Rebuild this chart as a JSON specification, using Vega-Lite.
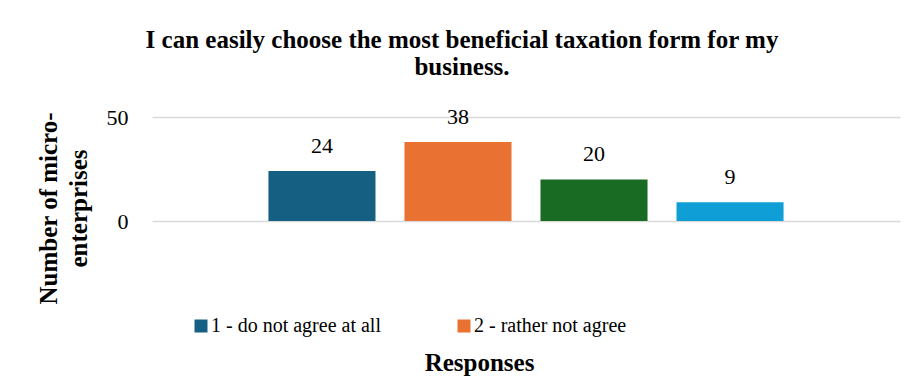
{
  "$schema": "https://vega.github.io/schema/vega-lite/v6.json",
  "width": 748,
  "height": 104,
  "autosize": {"type": "none"},
  "padding": {"left": 152, "top": 117, "right": 17, "bottom": 169},
  "background": "white",
  "title": {
    "text": ["I can easily choose the most beneficial taxation form for my", "business."],
    "font": "Liberation Serif",
    "fontSize": 25,
    "fontWeight": "bold",
    "color": "#000000",
    "anchor": "middle",
    "dx": -64,
    "offset": 26,
    "lineHeight": 27
  },
  "config": {
    "view": {"stroke": null},
    "legend": {"labelFont": "Liberation Serif", "labelFontSize": 20, "labelColor": "#000000"}
  },
  "data": {
    "values": [
      {"response": "1 - do not agree at all", "count": 24},
      {"response": "2 - rather not agree", "count": 38},
      {"response": "3 - rather agree", "count": 20},
      {"response": "4 - fully agree", "count": 9}
    ]
  },
  "encoding": {
    "x": {
      "field": "response",
      "type": "nominal",
      "sort": null,
      "scale": {"paddingInner": 0.213, "paddingOuter": 0.856},
      "axis": {
        "labels": false,
        "ticks": false,
        "domain": false,
        "title": "Responses",
        "titleFont": "Liberation Serif",
        "titleFontSize": 25,
        "titleFontWeight": "bold",
        "titleColor": "#000000",
        "titleX": 327,
        "titleY": 141,
        "titleAlign": "center",
        "titleBaseline": "middle"
      }
    },
    "y": {
      "field": "count",
      "type": "quantitative",
      "scale": {"domain": [0, 50]},
      "axis": {
        "values": [0, 50],
        "grid": true,
        "gridColor": "#d9d9d9",
        "gridWidth": 1.5,
        "domain": false,
        "ticks": false,
        "labelFont": "Liberation Serif",
        "labelFontSize": 22,
        "labelColor": "#000000",
        "labelPadding": 24,
        "title": ["Number of micro-", "enterprises"],
        "titleFont": "Liberation Serif",
        "titleFontSize": 25,
        "titleFontWeight": "bold",
        "titleColor": "#000000",
        "titleLineHeight": 30,
        "titleX": -91,
        "titleY": 91,
        "titleAlign": "center"
      }
    }
  },
  "layer": [
    {
      "mark": {"type": "bar"},
      "encoding": {
        "color": {
          "field": "response",
          "type": "nominal",
          "sort": null,
          "scale": {
            "domain": ["1 - do not agree at all", "2 - rather not agree", "3 - rather agree", "4 - fully agree"],
            "range": ["#156082", "#E97132", "#196B24", "#0F9ED5"]
          },
          "legend": {
            "orient": "none",
            "legendX": 39,
            "legendY": 199,
            "direction": "horizontal",
            "columns": 2,
            "values": ["1 - do not agree at all", "2 - rather not agree"],
            "title": null,
            "symbolType": "square",
            "symbolSize": 169,
            "symbolStrokeWidth": 0,
            "symbolOpacity": 1,
            "labelFont": "Liberation Serif",
            "labelFontSize": 20,
            "labelColor": "#000000",
            "labelLimit": 400,
            "labelOffset": 0,
            "columnPadding": 73
          }
        }
      }
    },
    {
      "mark": {"type": "text", "baseline": "middle", "dy": -25, "font": "Liberation Serif", "fontSize": 22, "color": "#000000"},
      "encoding": {"text": {"field": "count", "type": "quantitative"}}
    }
  ]
}
